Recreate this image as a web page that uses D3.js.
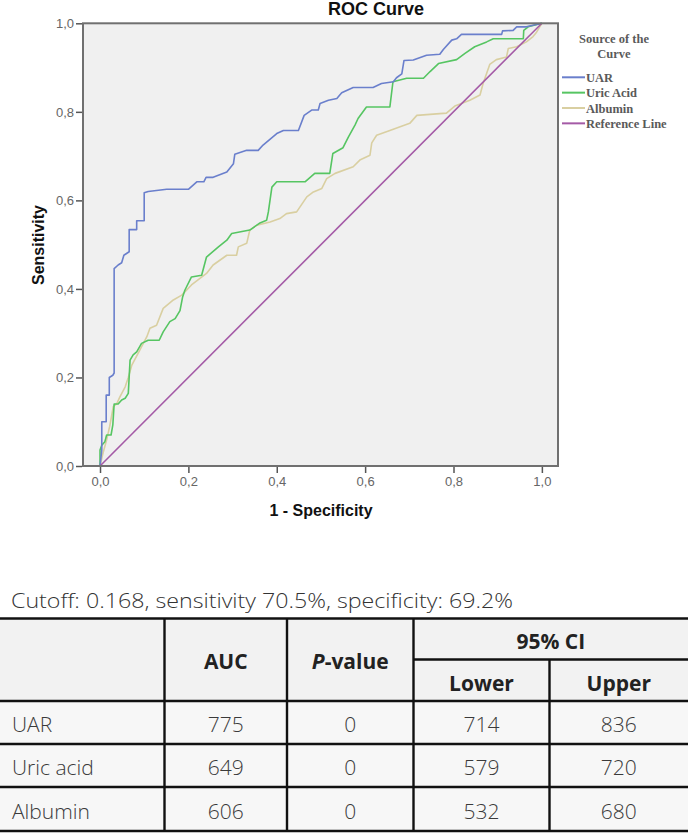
<!DOCTYPE html>
<html>
<head>
<meta charset="utf-8">
<script src="https://cdn.jsdelivr.net/npm/d3@7"></script>
<style>
  html, body { margin: 0; padding: 0; background: #ffffff; }
  svg { display: block; }
</style>
</head>
<body>
<div id="chart"></div>
<script>
// ---------------- DATA ----------------
const chartTitle = "ROC Curve";
const xAxisTitle = "1 - Specificity";
const yAxisTitle = "Sensitivity";
const tickValues = [0, 0.2, 0.4, 0.6, 0.8, 1.0];
const legendTitle = ["Source of the", "Curve"];
const seriesNames = ["UAR", "Uric Acid", "Albumin", "Reference Line"];

const uarFpr = [0, 0.004, 0.004, 0.014, 0.014, 0.021, 0.021, 0.029, 0.032, 0.032, 0.041, 0.049, 0.054, 0.066, 0.066, 0.083, 0.083, 0.100, 0.100, 0.109, 0.151, 0.200, 0.219, 0.235, 0.240, 0.256, 0.287, 0.302, 0.305, 0.332, 0.358, 0.369, 0.400, 0.415, 0.449, 0.462, 0.479, 0.494, 0.498, 0.517, 0.536, 0.547, 0.573, 0.618, 0.637, 0.664, 0.671, 0.683, 0.688, 0.709, 0.739, 0.769, 0.777, 0.796, 0.807, 0.818, 0.909, 0.911, 0.935, 0.943, 0.965, 1.0];
const uarTpr = [0, 0.036, 0.100, 0.100, 0.160, 0.160, 0.200, 0.205, 0.210, 0.446, 0.454, 0.459, 0.476, 0.484, 0.534, 0.534, 0.554, 0.554, 0.617, 0.620, 0.625, 0.625, 0.642, 0.642, 0.652, 0.652, 0.664, 0.683, 0.704, 0.713, 0.713, 0.725, 0.751, 0.758, 0.758, 0.792, 0.804, 0.804, 0.819, 0.826, 0.830, 0.843, 0.855, 0.855, 0.864, 0.868, 0.877, 0.886, 0.916, 0.917, 0.928, 0.930, 0.941, 0.962, 0.965, 0.975, 0.975, 0.983, 0.984, 0.992, 0.992, 1.0];

const uricFpr = [0, 0, 0.004, 0.011, 0.015, 0.025, 0.029, 0.032, 0.041, 0.049, 0.057, 0.064, 0.068, 0.075, 0.083, 0.094, 0.109, 0.134, 0.143, 0.158, 0.170, 0.181, 0.187, 0.192, 0.207, 0.230, 0.241, 0.268, 0.287, 0.298, 0.339, 0.362, 0.377, 0.381, 0.389, 0.400, 0.464, 0.486, 0.520, 0.527, 0.550, 0.562, 0.577, 0.584, 0.603, 0.656, 0.663, 0.694, 0.732, 0.747, 0.766, 0.807, 0.826, 0.848, 0.875, 0.890, 0.958, 0.959, 0.969, 1.0];
const uricTpr = [0, 0.036, 0.047, 0.055, 0.070, 0.070, 0.093, 0.140, 0.140, 0.149, 0.153, 0.164, 0.239, 0.251, 0.258, 0.277, 0.284, 0.284, 0.303, 0.326, 0.333, 0.351, 0.382, 0.397, 0.427, 0.431, 0.472, 0.495, 0.510, 0.525, 0.533, 0.549, 0.555, 0.574, 0.630, 0.642, 0.642, 0.661, 0.661, 0.706, 0.719, 0.743, 0.770, 0.785, 0.811, 0.811, 0.868, 0.876, 0.876, 0.891, 0.909, 0.918, 0.932, 0.947, 0.958, 0.965, 0.965, 0.984, 0.992, 1.0];

const albFpr = [0, 0.007, 0.015, 0.022, 0.030, 0.038, 0.045, 0.057, 0.064, 0.072, 0.090, 0.106, 0.113, 0.128, 0.143, 0.166, 0.185, 0.207, 0.241, 0.256, 0.287, 0.309, 0.313, 0.332, 0.339, 0.355, 0.385, 0.407, 0.422, 0.445, 0.468, 0.483, 0.502, 0.513, 0.532, 0.573, 0.588, 0.611, 0.615, 0.626, 0.656, 0.701, 0.717, 0.784, 0.803, 0.837, 0.860, 0.867, 0.882, 0.897, 0.920, 0.924, 0.943, 0.965, 0.980, 0.988, 1.0];
const albTpr = [0, 0.030, 0.059, 0.090, 0.134, 0.141, 0.156, 0.179, 0.200, 0.228, 0.262, 0.292, 0.311, 0.318, 0.356, 0.375, 0.386, 0.409, 0.435, 0.454, 0.476, 0.476, 0.495, 0.503, 0.533, 0.544, 0.551, 0.559, 0.570, 0.574, 0.608, 0.619, 0.627, 0.649, 0.661, 0.676, 0.691, 0.702, 0.730, 0.747, 0.758, 0.774, 0.792, 0.797, 0.813, 0.826, 0.838, 0.864, 0.907, 0.918, 0.924, 0.943, 0.947, 0.958, 0.970, 0.980, 1.0];

const refFpr = [0, 1];
const refTpr = [0, 1];

// table data
const cutoffNote = "Cutoff: 0.168, sensitivity 70.5%, specificity: 69.2%";
const tableRows = ["UAR", "Uric acid", "Albumin"];
const aucValues = ["775", "649", "606"];
const pValues = ["0", "0", "0"];
const ciLower = ["714", "579", "532"];
const ciUpper = ["836", "720", "680"];

// ---------------- DRAW ----------------
const W = 688, H = 835;
const svg = d3.select("#chart").append("svg")
  .attr("width", W).attr("height", H)
  .attr("viewBox", `0 0 ${W} ${H}`);

svg.append("rect").attr("width", W).attr("height", H).attr("fill", "#ffffff");

const frame = { left: 83, right: 558, top: 23.3, bottom: 466 };
const x = d3.scaleLinear().domain([-0.0385, 1.0365]).range([frame.left, frame.right]);
const y = d3.scaleLinear().domain([0, 1]).range([frame.bottom, frame.top]);

const fmt = d => d3.format(".1f")(d).replace(".", ",");

// plot background
svg.append("rect")
  .attr("x", frame.left).attr("y", frame.top)
  .attr("width", frame.right - frame.left).attr("height", frame.bottom - frame.top)
  .attr("fill", "#f0f0f0");

// curves
const series = [
  { name: "Albumin", fpr: albFpr, tpr: albTpr, color: "#d9cfa1" },
  { name: "Uric Acid", fpr: uricFpr, tpr: uricTpr, color: "#56c562" },
  { name: "UAR", fpr: uarFpr, tpr: uarTpr, color: "#6a7fcc" },
  { name: "Reference Line", fpr: refFpr, tpr: refTpr, color: "#a45aa6" }
];
const line = d3.line().x(d => x(d[0])).y(d => y(d[1]));
const plotG = svg.append("g");
series.forEach(s => {
  const pts = s.fpr.map((f, i) => [f, s.tpr[i]]);
  plotG.append("path")
    .datum(pts)
    .attr("d", line)
    .attr("fill", "none")
    .attr("stroke", s.color)
    .attr("stroke-width", 1.6)
    .attr("stroke-linejoin", "round");
});

// frame
svg.append("rect")
  .attr("x", frame.left).attr("y", frame.top)
  .attr("width", frame.right - frame.left).attr("height", frame.bottom - frame.top)
  .attr("fill", "none").attr("stroke", "#707070").attr("stroke-width", 2);

// axes
const yAxis = svg.append("g")
  .attr("transform", `translate(${frame.left - 1},0)`)
  .call(d3.axisLeft(y).tickValues(tickValues).tickFormat(fmt).tickSize(6).tickSizeOuter(0).tickPadding(2));
const xAxis = svg.append("g")
  .attr("transform", `translate(0,${frame.bottom + 1})`)
  .call(d3.axisBottom(x).tickValues(tickValues).tickFormat(fmt).tickSize(6).tickSizeOuter(0).tickPadding(4));
[xAxis, yAxis].forEach(a => {
  a.select(".domain").remove();
  a.selectAll(".tick line").attr("stroke", "#555").attr("stroke-width", 1.5);
  a.selectAll(".tick text")
    .attr("fill", "#666")
    .style("font-family", "'Liberation Sans', Arial, sans-serif")
    .style("font-size", "13px");
});

// titles
svg.append("text")
  .attr("x", 376).attr("y", 15)
  .attr("text-anchor", "middle")
  .style("font-family", "'Liberation Sans', Arial, sans-serif")
  .style("font-weight", "bold").style("font-size", "18px")
  .attr("fill", "#111")
  .text(chartTitle);

svg.append("text")
  .attr("x", 321).attr("y", 516)
  .attr("text-anchor", "middle")
  .style("font-family", "'Liberation Sans', Arial, sans-serif")
  .style("font-weight", "bold").style("font-size", "16px")
  .attr("fill", "#111")
  .text(xAxisTitle);

svg.append("text")
  .attr("transform", "translate(44,245) rotate(-90)")
  .attr("text-anchor", "middle")
  .style("font-family", "'Liberation Sans', Arial, sans-serif")
  .style("font-weight", "bold").style("font-size", "16px")
  .attr("fill", "#111")
  .text(yAxisTitle);

// legend
const legG = svg.append("g");
legendTitle.forEach((t, i) => {
  legG.append("text")
    .attr("x", 614).attr("y", 43 + i * 15)
    .attr("text-anchor", "middle")
    .style("font-family", "'Liberation Serif', 'Times New Roman', serif")
    .style("font-weight", "bold").style("font-size", "12.5px")
    .attr("fill", "#5a5a5a")
    .text(t);
});
const legendColors = { "UAR": "#6a7fcc", "Uric Acid": "#56c562", "Albumin": "#d9cfa1", "Reference Line": "#a45aa6" };
seriesNames.forEach((n, i) => {
  const yy = 77.3 + i * 15.35;
  legG.append("line")
    .attr("x1", 562).attr("x2", 585).attr("y1", yy).attr("y2", yy)
    .attr("stroke", legendColors[n]).attr("stroke-width", 2);
  legG.append("text")
    .attr("x", 586).attr("y", yy + 4.5)
    .style("font-family", "'Liberation Serif', 'Times New Roman', serif")
    .style("font-weight", "bold").style("font-size", "12.5px")
    .attr("fill", "#5a5a5a")
    .text(n);
});

// ---------------- TABLE ----------------
const tFont = "'Open Sans', 'Noto Sans', sans-serif";
const note = svg.append("text")
  .attr("x", 11).attr("y", 608)
  .style("font-family", tFont).style("font-weight", 300).style("font-size", "21px")
  .attr("fill", "#333")
  .text(cutoffNote);
note.attr("textLength", 502).attr("lengthAdjust", "spacingAndGlyphs");

const colX = [0, 164.5, 287, 413.5, 549.5, 688];
const rowY = [618.5, 701, 744, 787, 831];
const subY = 659.5;

const tbl = svg.append("g");
// backgrounds
tbl.append("rect").attr("x", 0).attr("y", rowY[0]).attr("width", W).attr("height", rowY[1] - rowY[0]).attr("fill", "#f2f2f2");
tbl.append("rect").attr("x", 0).attr("y", rowY[1]).attr("width", W).attr("height", rowY[4] - rowY[1]).attr("fill", "#f7f7f7");

const lineStyle = sel => sel.attr("stroke", "#111").attr("stroke-width", 2.4);
rowY.forEach(yy => tbl.append("line").attr("x1", 0).attr("x2", W).attr("y1", yy).attr("y2", yy).call(lineStyle));
tbl.append("line").attr("x1", colX[3]).attr("x2", W).attr("y1", subY).attr("y2", subY).call(lineStyle);
colX.slice(1, 5).forEach((xx, i) => {
  const y1 = (i === 3) ? subY : rowY[0];
  tbl.append("line").attr("x1", xx).attr("x2", xx).attr("y1", y1).attr("y2", rowY[4]).call(lineStyle);
});

const cx = i => (colX[i] + colX[i + 1]) / 2;
const headText = (xx, yy, t, anchor) => tbl.append("text")
  .attr("x", xx).attr("y", yy)
  .attr("text-anchor", anchor || "middle")
  .attr("dominant-baseline", "central")
  .style("font-family", tFont).style("font-weight", 700).style("font-size", "21px")
  .attr("fill", "#222")
  .text(t);

headText(cx(1), 661, "AUC");
const pv = tbl.append("text")
  .attr("x", cx(2)).attr("y", 661)
  .attr("text-anchor", "middle").attr("dominant-baseline", "central")
  .style("font-family", tFont).style("font-weight", 700).style("font-size", "21px")
  .attr("fill", "#222");
pv.append("tspan").style("font-style", "italic").text("P");
pv.append("tspan").text("-value");
headText((colX[3] + colX[5]) / 2, 641, "95% CI");
headText(cx(3), 683, "Lower");
headText(cx(4), 683, "Upper");

const bodyText = (xx, yy, t, anchor) => tbl.append("text")
  .attr("x", xx).attr("y", yy)
  .attr("text-anchor", anchor || "middle")
  .attr("dominant-baseline", "central")
  .style("font-family", tFont).style("font-weight", 300).style("font-size", "21px")
  .attr("fill", "#3a3a3a")
  .text(t);

tableRows.forEach((r, i) => {
  const yy = (rowY[i + 1] + rowY[i + 2]) / 2 + 1.5;
  bodyText(12, yy, r, "start");
  bodyText(cx(1), yy, aucValues[i]);
  bodyText(cx(2), yy, pValues[i]);
  bodyText(cx(3), yy, ciLower[i]);
  bodyText(cx(4), yy, ciUpper[i]);
});
</script>
</body>
</html>
